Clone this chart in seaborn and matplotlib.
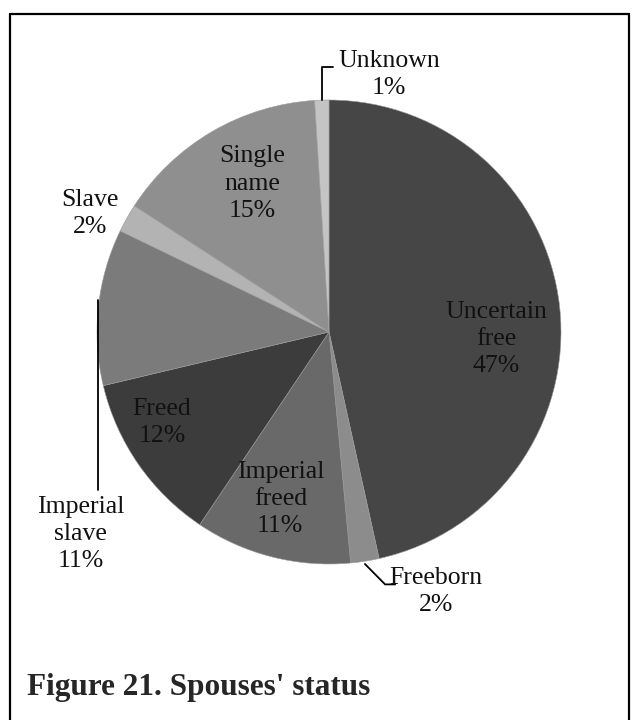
import matplotlib
matplotlib.use("Agg")
import numpy as np
import matplotlib.pyplot as plt
from matplotlib.lines import Line2D
from matplotlib.transforms import Bbox, TransformedBbox
import seaborn as sns

# data (percent, clockwise from 12 o'clock)
statuses = ["Uncertain\nfree", "Freeborn", "Imperial\nfreed", "Freed",
            "Imperial\nslave", "Slave", "Single\nname", "Unknown"]
shares = [47, 2, 11, 12, 11, 2, 15, 1]
pct_labels = ["47%", "2%", "11%", "12%", "11%", "2%", "15%", "1%"]

greys = ["#464646", "#8c8c8c", "#696969", "#3c3c3c",
         "#7b7b7b", "#b3b3b3", "#8f8f8f", "#c4c4c4"]

sns.set_theme(style="white")
plt.rcParams['font.family'] = ['Liberation Serif', 'DejaVu Serif']

fig = plt.figure(figsize=(6.35, 7.2), dpi=100)
# pie centre ~ (329, 332) px, radius ~232 px
ax = fig.add_axes([97 / 635, 156 / 720, 464 / 635, 464 / 720])

wedges, _ = ax.pie(shares, colors=sns.color_palette(greys), startangle=90,
                   counterclock=False, radius=1,
                   wedgeprops=dict(edgecolor="#9a9a9a", linewidth=0.4))
ax.set_aspect('auto')
ax.set_xlim(-1, 1)
ax.set_ylim(-1, 1)
ax.axis('off')

# label anchor points (in pie-radius units)
label_xy = [(0.72, -0.03), (0.46, -1.12), (-0.21, -0.72), (-0.72, -0.39),
            (-1.07, -0.87), (-1.03, 0.51), (-0.33, 0.64), (0.26, 1.11)]

clip = TransformedBbox(Bbox([[0, 106 / 720], [1, 1]]), fig.transFigure)
for name, pct, (x, y) in zip(statuses, pct_labels, label_xy):
    t = ax.text(x, y, f"{name}\n{pct}", ha='center', va='center',
                fontsize=18.5, color="#111111", linespacing=1.3)
    t.set_clip_box(clip)
    t.set_clip_on(True)


def edge_point(w):
    mid = np.deg2rad((w.theta1 + w.theta2) / 2)
    return np.cos(mid), np.sin(mid)


# leader lines for the thin / outside slices
x0, y0 = edge_point(wedges[7])
ax.plot([x0, x0, x0 + 0.05], [y0, 1.142, 1.142], color="black", lw=1.3, clip_on=False)
x0, y0 = edge_point(wedges[1])
ax.plot([x0 + 0.0, x0 + 0.087, x0 + 0.13], [y0 - 0.012, y0 - 0.1, y0 - 0.1],
        color="black", lw=1.3, clip_on=False)
x0, y0 = edge_point(wedges[4])
ax.plot([x0, x0], [y0 + 0.03, -0.68], color="black", lw=1.3, clip_on=False)

# frame around figure (open at the bottom)
for xs, ys in [([10, 10], [720, 14]), ([10, 629], [14, 14]), ([629, 629], [14, 720])]:
    fig.add_artist(Line2D([x / 635 for x in xs], [1 - y / 720 for y in ys],
                          color="black", lw=1.6))

fig.text(27 / 635, 1 - 695 / 720, "Figure 21. Spouses' status", fontsize=22.5,
         fontweight='bold', va='baseline', ha='left')

fig.savefig("out.png", dpi=100)
